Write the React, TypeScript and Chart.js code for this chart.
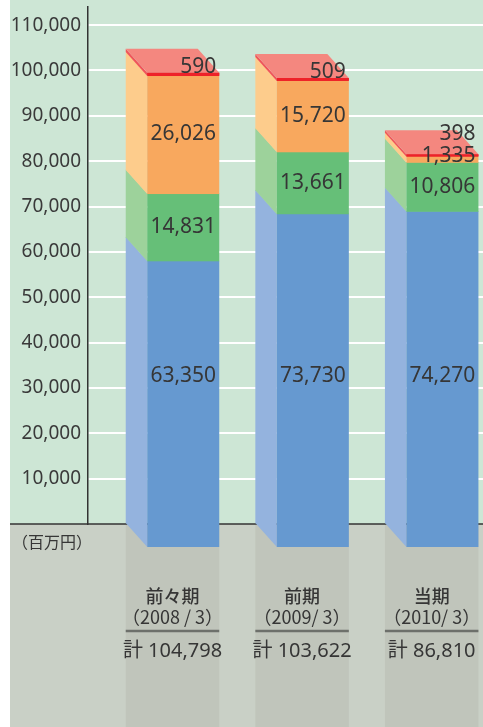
import React, { useEffect, useRef } from 'react';
import { Chart, registerables } from 'chart.js';

Chart.register(...registerables);

// ---- data ----
const categories = ['前々期', '前期', '当期'];
const periods = ['（2008 / 3）', '（2009/ 3）', '（2010/ 3）'];
const totals = [104798, 103622, 86810];
const seriesBlue = [63350, 73730, 74270];
const seriesGreen = [14831, 13661, 10806];
const seriesOrange = [26026, 15720, 1335];
const seriesRed = [590, 509, 398];
const yTickValues = [0, 10000, 20000, 30000, 40000, 50000, 60000, 70000, 80000, 90000, 100000, 110000];
const unitLabel = '（百万円）';
const totalPrefix = '計';

// ---- styles ----
const FRONT = ['#6699d0', '#66bf78', '#f8a85e', '#ee2229'];
const SIDE = ['#94b3de', '#9dd29b', '#fdcc8c', '#f0545a'];
const TOP = '#f4877f';
const DX = 21.5;
const DY = 24;
const BOTTOM_LABEL_LEVEL = 32600;
const TEXT = '#363636';
const NUM_FONT = '"Noto Sans", "Noto Sans CJK JP", sans-serif';
const CJK_FONT = '"Noto Sans CJK JP", "Noto Sans", sans-serif';

const fmt = (v: number) => v.toLocaleString('en-US');

const box3d = {
  id: 'box3d',
  beforeDraw(chart: any) {
    const { ctx, width, height } = chart;
    const base = chart.scales.y.getPixelForValue(0);
    ctx.save();
    ctx.fillStyle = '#cde6d5';
    ctx.fillRect(10, 0, width - 10, base);
    ctx.fillStyle = '#c9d0c6';
    ctx.fillRect(10, base, width - 10, height - base);
    ctx.fillStyle = '#c0c5bb';
    chart.getDatasetMeta(0).data.forEach((el: any) => {
      const { x, width: w } = el.getProps(['x', 'width'], true);
      ctx.fillRect(x - w / 2, base, w + DX, height - base);
    });
    ctx.restore();
  },
  beforeDatasetsDraw(chart: any) {
    const { ctx, width } = chart;
    const base = chart.scales.y.getPixelForValue(0);
    ctx.save();
    ctx.strokeStyle = '#333';
    ctx.lineWidth = 1.5;
    ctx.beginPath();
    ctx.moveTo(10, base);
    ctx.lineTo(width, base);
    ctx.stroke();
    ctx.restore();
  },
  afterDatasetsDraw(chart: any) {
    const { ctx } = chart;
    const yScale = chart.scales.y;
    const n = chart.data.datasets.length;
    const count = chart.data.datasets[0].data.length;
    ctx.save();
    for (let i = 0; i < count; i++) {
      let topInfo: any = null;
      for (let k = 0; k < n; k++) {
        const el = chart.getDatasetMeta(k).data[i];
        const { x, y, base, width } = el.getProps(['x', 'y', 'base', 'width'], true);
        const xl = x - width / 2;
        const b = k === 0 ? base : base + 0.6;
        ctx.fillStyle = SIDE[k];
        ctx.beginPath();
        ctx.moveTo(xl, y);
        ctx.lineTo(xl + DX, y + DY);
        ctx.lineTo(xl + DX, b + DY);
        ctx.lineTo(xl, b);
        ctx.closePath();
        ctx.fill();
        ctx.fillStyle = FRONT[k];
        ctx.fillRect(xl + DX, y + DY, width, b - y);
        topInfo = { xl, xr: x + width / 2, y };
      }
      if (topInfo) {
        const { xl, xr, y } = topInfo;
        ctx.fillStyle = TOP;
        ctx.beginPath();
        ctx.moveTo(xl, y);
        ctx.lineTo(xr, y);
        ctx.lineTo(xr + DX, y + DY);
        ctx.lineTo(xl + DX, y + DY);
        ctx.closePath();
        ctx.fill();
        const el = chart.getDatasetMeta(n - 1).data[i];
        const p = el.getProps(['y', 'base'], true);
        ctx.fillStyle = FRONT[n - 1];
        ctx.fillRect(xl + DX, p.y + DY, xr - xl, Math.max(p.base - p.y, 0));
      }
    }
    // value labels
    ctx.fillStyle = TEXT;
    ctx.font = '21px ' + NUM_FONT;
    for (let i = 0; i < count; i++) {
      let prevBaseline = Infinity;
      for (let k = 0; k < n; k++) {
        const el = chart.getDatasetMeta(k).data[i];
        const { x, y, base, width } = el.getProps(['x', 'y', 'base', 'width'], true);
        const val = chart.data.datasets[k].data[i].y;
        const h = base - y;
        const fx = x + DX;
        if (k === 0) {
          ctx.textAlign = 'center';
          ctx.textBaseline = 'middle';
          ctx.fillText(fmt(val), fx, yScale.getPixelForValue(BOTTOM_LABEL_LEVEL));
        } else if (h >= 20) {
          ctx.textAlign = 'center';
          ctx.textBaseline = 'middle';
          ctx.fillText(fmt(val), fx, (y + base) / 2 + DY);
        } else {
          let bl = k === n - 1 ? y + DY : base + DY;
          bl = Math.min(bl, prevBaseline - 22);
          ctx.textAlign = 'right';
          ctx.textBaseline = 'alphabetic';
          ctx.fillText(fmt(val), x + width / 2 + DX - 3, bl);
          prevBaseline = bl;
        }
      }
    }
    ctx.restore();
  },
  afterDraw(chart: any) {
    const { ctx } = chart;
    const base = chart.scales.y.getPixelForValue(0);
    ctx.save();
    ctx.fillStyle = TEXT;
    ctx.textBaseline = 'middle';
    ctx.textAlign = 'left';
    ctx.font = '16px ' + CJK_FONT;
    ctx.fillText(unitLabel, 12, base + 18);
    chart.getDatasetMeta(0).data.forEach((el: any, i: number) => {
      const { x, width: w } = el.getProps(['x', 'width'], true);
      const left = x - w / 2;
      const right = x + w / 2 + DX;
      const cx = (left + right) / 2;
      ctx.textAlign = 'center';
      ctx.fillStyle = TEXT;
      ctx.font = '500 18px ' + CJK_FONT;
      ctx.fillText(categories[i], cx, base + 72);
      ctx.font = '18px ' + CJK_FONT;
      ctx.fillText(periods[i], cx, base + 93);
      ctx.strokeStyle = '#6d706b';
      ctx.lineWidth = 2.5;
      ctx.beginPath();
      ctx.moveTo(left, base + 107);
      ctx.lineTo(right, base + 107);
      ctx.stroke();
      ctx.font = '20px ' + NUM_FONT;
      ctx.fillText(totalPrefix + ' ' + fmt(totals[i]), cx, base + 127);
    });
    ctx.restore();
  },
};

export default function App() {
  const ref = useRef<HTMLCanvasElement | null>(null);
  useEffect(() => {
    if (!ref.current) return;
    const toPts = (arr: number[]) => arr.map((v, i) => ({ x: i, y: v }));
    const chart = new Chart(ref.current, {
      type: 'bar',
      data: {
        datasets: [
          { label: 'A', data: toPts(seriesBlue) },
          { label: 'B', data: toPts(seriesGreen) },
          { label: 'C', data: toPts(seriesOrange) },
          { label: 'D', data: toPts(seriesRed) },
        ].map((d) => ({
          ...d,
          backgroundColor: 'rgba(0,0,0,0)',
          borderWidth: 0,
          barThickness: 72,
        })) as any,
      },
      options: {
        animation: false,
        responsive: true,
        maintainAspectRatio: false,
        layout: { padding: { top: 7, bottom: 203, left: 0, right: 0 } },
        plugins: { legend: { display: false }, tooltip: { enabled: false } },
        scales: {
          x: {
            type: 'linear',
            min: -0.569,
            max: 2.479,
            display: false,
            offset: false,
            stacked: true,
          },
          y: {
            stacked: true,
            min: 0,
            max: 114000,
            afterBuildTicks: (s: any) => {
              s.ticks = yTickValues.map((v) => ({ value: v }));
            },
            afterFit: (s: any) => {
              s.width = 88;
              s.paddingTop = 0;
              s.paddingBottom = 0;
            },
            grid: {
              color: (c: any) => (c.tick && c.tick.value === 0 ? 'rgba(0,0,0,0)' : '#ffffff'),
              lineWidth: 2,
              drawTicks: false,
            },
            border: { display: true, color: '#333', width: 1.5 },
            ticks: {
              padding: 7,
              color: '#3a3a3a',
              font: { family: NUM_FONT, size: 19 },
              callback: (v: any) => (v === 0 ? '' : fmt(v)),
            },
          },
        } as any,
      },
      plugins: [box3d],
    });
    return () => chart.destroy();
  }, []);
  return (
    <div style={{ position: 'fixed', left: 0, top: 0, width: 483, height: 727, background: '#fff' }}>
      <canvas ref={ref} />
    </div>
  );
}
